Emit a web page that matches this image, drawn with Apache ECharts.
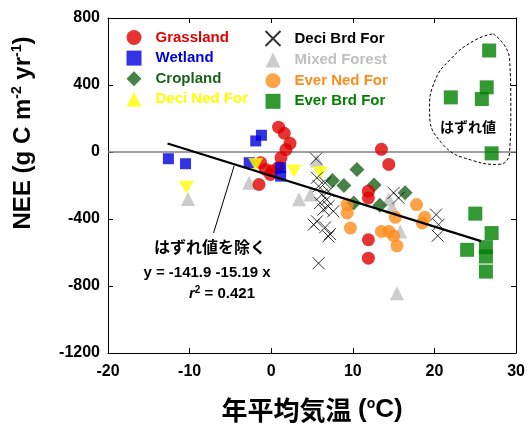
<!DOCTYPE html>
<html>
<head>
<meta charset="utf-8">
<script src="https://cdn.jsdelivr.net/npm/echarts@6/dist/echarts.min.js"></script>
<style>html,body{margin:0;padding:0;background:#fff}#c{width:528px;height:429px}</style>
</head>
<body>
<div id="c"></div>
<script>
// ---- data ----
const xTicks = [-20, -10, 0, 10, 20, 30];
const yTicks = [-1200, -800, -400, 0, 400, 800];
const grassland = [[0.9,148],[1.6,112],[2.3,52],[1.8,14],[1.2,-34],[0.9,-92],[0.1,-112],[-1.3,-64],[-0.7,-104],[-0.1,-134],[-1.5,-194],[13.5,16],[14.4,-74],[11.9,-234],[11.9,-274],[11.9,-524],[11.9,-634]];
const wetland = [[-12.6,-40],[-10.5,-70],[-1.9,66],[-1.2,100],[-2.7,-64],[1.15,-94],[1.15,-144]];
const cropland = [[7.5,-170],[8.9,-200],[10.5,-104],[12.6,-197],[16.4,-244],[10.1,-304],[13.3,-318]];
const deciNedFor = [[-10.4,-210],[-1.9,-74],[2.8,-114],[6.0,-124]];
const deciBrdFor = [[5.5,-40],[5.6,-154],[6.6,-184],[5.8,-204],[7.0,-234],[6.2,-254],[6.8,-284],[6.0,-304],[7.0,-324],[6.4,-344],[7.6,-354],[5.6,-414],[5.2,-434],[6.6,-450],[7.2,-490],[7.0,-504],[5.8,-664],[15.0,-244],[15.6,-274],[20.2,-374],[20.5,-434],[20.4,-500]];
const mixedForest = [[-10.2,-280],[-2.7,-184],[3.4,-282],[4.8,-254],[5.6,-50],[14.4,-280],[14.8,-330],[15.8,-474],[15.4,-844]];
const everNedFor = [[9.3,-314],[9.3,-364],[9.7,-454],[13.5,-474],[14.4,-474],[15.0,-500],[15.2,-390],[15.4,-560],[17.8,-314],[18.8,-390],[18.5,-424]];
const everBrdFor = [[26.7,606],[26.4,386],[22.0,326],[25.8,316],[27.0,-8],[25.0,-368],[27.0,-484],[24.0,-584],[26.3,-568],[26.3,-624],[26.3,-714]];
const regression = [[-12.7,51],[25.7,-532]];
const zeroLine = [[-20,0],[30,0]];
const leader = [[-7.07,-484],[-4.55,-84]];
const outlierLoop = [[27.2,706],[29.2,556],[29.35,256],[29.2,-2],[27.8,-74],[24.9,-54],[20.8,58],[19.4,256],[20.0,418],[22.0,556],[24.9,666],[27.2,706]];

const LAT = 'Liberation Sans, Arial, sans-serif';
const JP = 'Noto Sans CJK JP, sans-serif';
const C = {
  Grassland:'#e00000', Wetland:'#0000dd', Cropland:'#1a631a', 'Deci Ned For':'#ffff00',
  'Deci Brd For':'#000000', 'Mixed Forest':'#bfbfbf', 'Ever Ned For':'#ff8c1a', 'Ever Brd For':'#008000'
};
const legendNames1 = ['Grassland','Wetland','Cropland','Deci Ned For'];
const legendNames2 = ['Deci Brd For','Mixed Forest','Ever Ned For','Ever Brd For'];

function sc(name, data, symbol, size, extra) {
  return Object.assign({
    name, type:'scatter', data, symbol, symbolSize:size,
    itemStyle:{color:C[name]}, silent:true, xAxisIndex:0, yAxisIndex:0
  }, extra || {});
}
function legendCfg(names, left) {
  return {
    data: names.map(n => ({name:n, textStyle:{color:C[n]}})),
    orient:'vertical', left:left, top:25, itemWidth:15, itemHeight:15, itemGap:5.6,
    selectedMode:false,
    textStyle:{fontFamily:LAT, fontWeight:'bold', fontSize:15, padding:[0,0,0,9]}
  };
}
const axisCommon = {
  axisLine:{onZero:false, lineStyle:{color:'#000', width:1}},
  axisTick:{inside:true, length:5, lineStyle:{color:'#000'}},
  splitLine:{show:false}
};

const chart = echarts.init(document.getElementById('c'), null, {renderer:'canvas'});
chart.setOption({
  animation:false,
  grid:{left:108, right:10, top:18, bottom:76, show:false},
  legend:[legendCfg(legendNames1, 121.5), legendCfg(legendNames2, 259.5)],
  xAxis:[
    Object.assign({type:'value', min:xTicks[0], max:xTicks[xTicks.length-1], interval:10, position:'bottom',
      axisLabel:{color:'#000', fontFamily:LAT, fontWeight:'bold', fontSize:16, margin:11, formatter:v => String(v)},
      name:'{c|年平均気温}  {l|(}{o|o}{l|C)}', nameLocation:'middle', nameGap:41,
      nameTextStyle:{rich:{
        c:{fontFamily:JP, fontWeight:'bold', fontSize:26, color:'#000', lineHeight:32, verticalAlign:'middle'},
        l:{fontFamily:LAT, fontWeight:'bold', fontSize:26, color:'#000', lineHeight:32, verticalAlign:'middle'},
        o:{fontFamily:LAT, fontWeight:'bold', fontSize:14, color:'#000', lineHeight:14, verticalAlign:'top', padding:[3,0,0,0]}
      }}
    }, axisCommon),
    Object.assign({type:'value', min:xTicks[0], max:xTicks[xTicks.length-1], interval:10, position:'top',
      axisLabel:{show:false}}, axisCommon)
  ],
  yAxis:[
    Object.assign({type:'value', min:yTicks[0], max:yTicks[yTicks.length-1], interval:400, position:'left',
      axisLabel:{color:'#000', fontFamily:LAT, fontWeight:'bold', fontSize:16, margin:8, formatter:v => String(v)}}, axisCommon),
    Object.assign({type:'value', min:yTicks[0], max:yTicks[yTicks.length-1], interval:400, position:'right',
      axisLabel:{show:false}}, axisCommon)
  ],
  series:[
    {type:'line', data:zeroLine, symbol:'none', silent:true, lineStyle:{color:'#808080', width:1.5}, z:1},
    {type:'line', data:outlierLoop, symbol:'none', smooth:0.5, silent:true, lineStyle:{color:'#000', width:1, type:[3,2]}, z:1},
    sc('Mixed Forest', mixedForest, 'triangle', 14),
    sc('Cropland', cropland, 'diamond', 15),
    sc('Grassland', grassland, 'circle', 13),
    sc('Wetland', wetland, 'rect', 11),
    sc('Deci Ned For', deciNedFor, 'triangle', [15,13], {symbolRotate:180}),
    sc('Deci Brd For', deciBrdFor, 'path://M0,0L10,10M10,0L0,10', 12,
      {itemStyle:{color:'rgba(0,0,0,0)', borderColor:'#000', borderWidth:1}}),
    sc('Ever Ned For', everNedFor, 'circle', 13),
    sc('Ever Brd For', everBrdFor, 'rect', 14),
    {type:'line', data:regression, symbol:'none', silent:true, lineStyle:{color:'#000', width:2.2}, z:5},
    {type:'line', data:leader, symbol:'none', silent:true, lineStyle:{color:'#000', width:1}, z:5}
  ],
  graphic:[
    {type:'text', x:23, y:133, rotation:Math.PI/2, style:{
      text:'{b|NEE (g C m}{s|-2}{b| yr}{s|-1}{b|)}', align:'center', verticalAlign:'middle',
      rich:{b:{fontFamily:LAT, fontWeight:'bold', fontSize:24, fill:'#000', lineHeight:26},
            s:{fontFamily:LAT, fontWeight:'bold', fontSize:14, fill:'#000', verticalAlign:'top', lineHeight:26, padding:[0,0,9,0]}}
    }},
    {type:'text', x:210, y:247, style:{text:'はずれ値を除く', align:'center', verticalAlign:'middle',
      font:'bold 16px Noto Sans CJK JP', fill:'#000'}},
    {type:'text', x:207, y:273, style:{text:'y = -141.9 -15.19 x', align:'center', verticalAlign:'middle',
      font:'bold 15px Liberation Sans', fill:'#000'}},
    {type:'text', x:222, y:294, style:{text:'{i|r}{s|2}{n| = 0.421}', align:'center', verticalAlign:'middle',
      rich:{i:{fontFamily:LAT, fontWeight:'bold', fontStyle:'italic', fontSize:15, fill:'#000', lineHeight:18},
            s:{fontFamily:LAT, fontWeight:'bold', fontSize:10, fill:'#000', verticalAlign:'top', lineHeight:18, padding:[0,0,6,0]},
            n:{fontFamily:LAT, fontWeight:'bold', fontSize:15, fill:'#000', lineHeight:18}}
    }},
    {type:'text', x:468, y:127, style:{text:'はずれ値', align:'center', verticalAlign:'middle',
      font:'bold 14px Noto Sans CJK JP', fill:'#000'}}
  ]
});
</script>
</body>
</html>
